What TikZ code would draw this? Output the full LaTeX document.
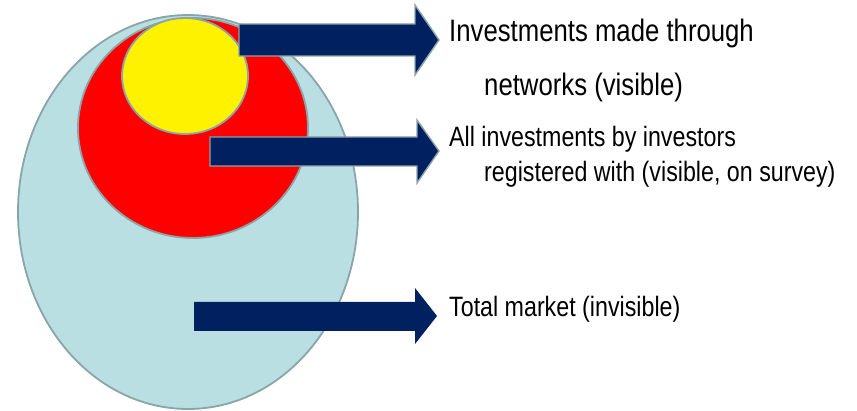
\documentclass[tikz,border=0pt]{standalone}
\usepackage{fontspec}
\setmainfont{Liberation Sans}
\newfontfamily\narrowsans[FakeStretch=0.83]{Liberation Sans}
\usepackage{tikz}

\definecolor{navy}{HTML}{002060}
\definecolor{paleblue}{HTML}{B9DFE2}
\definecolor{rimgray}{HTML}{8AA5A8}

\tikzset{
  ring/.style={draw=rimgray, line width=1.8pt},
  label/.style={anchor=base west, inner sep=0pt},
  bigtext/.style={label, font=\narrowsans\fontsize{31}{36}\selectfont},
  smalltext/.style={label, font=\narrowsans\fontsize{28}{33}\selectfont}
}

\begin{document}
\begin{tikzpicture}[x=1pt, y=-1pt]
    \useasboundingbox (0,0) rectangle (857,411);
    % Nested market sets
    \draw[ring, fill=paleblue] (188,212) ellipse (170 and 197);
    \draw[ring, fill=red] (193,128) ellipse (115 and 110);
    \draw[ring, fill=yellow] (185,76) ellipse (63 and 58);
    % Block arrows
    \filldraw[fill=navy, draw=rimgray, line width=1.4pt] (239,24) -- (415,24) -- (415,5) -- (439,40) -- (415,75) -- (415,56) -- (239,56) -- cycle;
    \filldraw[fill=navy, draw=rimgray, line width=1.4pt] (210,137) -- (417,137) -- (417,120) -- (439,151) -- (417,183) -- (417,166) -- (210,166) -- cycle;
    \fill[navy] (194,302) -- (415,302) -- (415,288) -- (437,316) -- (415,344) -- (415,331) -- (194,331) -- cycle;
    % Labels
    \node[bigtext] (net1) at (449,42) {Investments made through};
    \node[bigtext] (net2) at (484,96) {networks (visible)};
    \node[smalltext] (reg1) at (449,147) {All investments by investors};
    \node[smalltext] (reg2) at (484,182) {registered with (visible, on survey)};
    \node[smalltext] (tot) at (449,317) {Total market (invisible)};
\end{tikzpicture}
\end{document}
